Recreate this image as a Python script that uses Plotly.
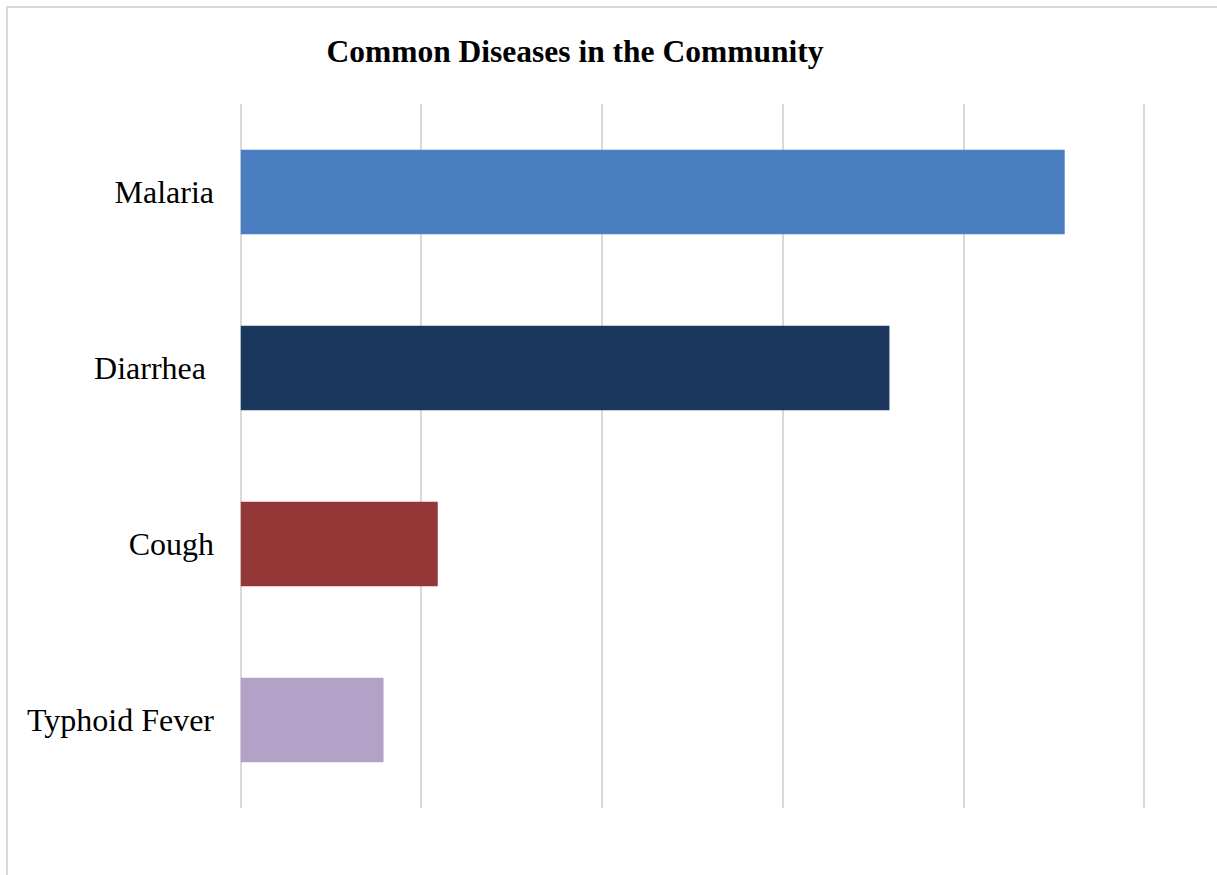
import plotly.graph_objects as go

categories = ["Malaria", "Diarrhea ", "Cough", "Typhoid Fever"]
values = [45.6, 35.9, 10.9, 7.9]
colors = ["#4a7ec0", "#1b375e", "#943837", "#b3a2c7"]

fig = go.Figure()
fig.add_trace(go.Bar(
    y=categories, x=values, orientation="h",
    marker=dict(color=colors, line=dict(width=0)),
    showlegend=False,
))

fig.update_layout(
    width=1217, height=875,
    margin=dict(l=239, r=71, t=104, b=67),
    paper_bgcolor="white", plot_bgcolor="white",
    bargap=0.52,
    title=dict(
        text="<b>Common Diseases in the Community</b>",
        x=575/1217, xref="container", xanchor="center",
        y=1-51/875, yref="container", yanchor="middle",
        font=dict(family="Liberation Serif", size=31.5, color="black"),
    ),
    font=dict(family="Liberation Serif", color="black"),
    xaxis=dict(
        range=[-0.1, 50.1], dtick=10, showgrid=True, gridcolor="#d9d9d9", gridwidth=2,
        zeroline=True, zerolinecolor="#d9d9d9", zerolinewidth=2,
        showticklabels=False, showline=False, fixedrange=True,
    ),
    yaxis=dict(
        autorange="reversed", showgrid=False, zeroline=False, showline=False,
        tickfont=dict(family="Liberation Serif", size=32, color="black"),
        ticks="", ticklabelstandoff=24,
    ),
    shapes=[
        dict(type="rect", xref="paper", yref="paper",
             x0=(7-239)/907, x1=1.3, y0=-0.3, y1=(808-7)/704,
             line=dict(color="#d9d9d9", width=2), fillcolor="rgba(0,0,0,0)", layer="below"),
    ],
)

fig.write_html("out.html")
